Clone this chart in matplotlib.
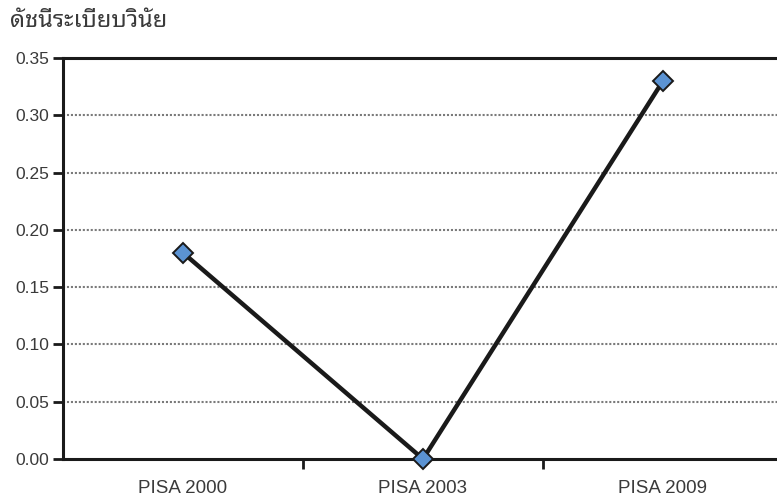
import matplotlib
matplotlib.use("Agg")
import matplotlib.pyplot as plt

# Data
categories = ["PISA 2000", "PISA 2003", "PISA 2009"]
values = [0.18, 0.00, 0.33]
y_ticks = [0.00, 0.05, 0.10, 0.15, 0.20, 0.25, 0.30, 0.35]
y_title = "ดัชนีระเบียบวินัย"

plt.rcParams["font.family"] = ["Liberation Sans", "DejaVu Sans"]

W, H = 777, 499
fig = plt.figure(figsize=(W / 100, H / 100), dpi=100)
left, right, top, bottom = 63, 777, 58, 459
ax = fig.add_axes([left / W, 1 - bottom / H, (right - left) / W, (bottom - top) / H])

x = list(range(len(categories)))
ax.plot(x, values, color="#1a1a1a", lw=3.2, zorder=3,
        marker="D", markersize=10, markerfacecolor="#5b93d3",
        markeredgecolor="#1a1a1a", markeredgewidth=1.4, clip_on=False)

# each category spans one unit; the right edge runs just past the figure
span = 1.0
ax.set_xlim(-0.5, -0.5 + span * (right - left) / 240)
ax.set_ylim(0, 0.35)

ax.set_yticks(y_ticks)
ax.set_yticklabels([f"{v:.2f}" for v in y_ticks])
ax.set_xticks([0.5, 1.5], minor=False)
ax.set_xticklabels([])
ax.set_xticks(x, minor=True)
ax.set_xticklabels(categories, minor=True)

ax.tick_params(axis="y", length=7, width=2, color="#1a1a1a", labelsize=12.5,
               labelcolor="#3a3a3a", pad=3)
ax.tick_params(axis="x", which="major", length=7, width=2, color="#1a1a1a")
ax.tick_params(axis="x", which="minor", length=0, labelsize=13.5,
               labelcolor="#3a3a3a", pad=15)

for yv in y_ticks[1:-1]:
    ax.axhline(yv, color="#7a7a7a", lw=1.5, ls=(0, (1.0, 0.9)), zorder=1)

for s in ["left", "bottom", "top"]:
    ax.spines[s].set_color("#1a1a1a")
    ax.spines[s].set_linewidth(2.2)
ax.spines["right"].set_visible(False)

fig.text(10 / W, 1 - 21 / H, y_title, fontsize=17, color="#3a3a3a",
         va="center", ha="left", fontweight="light",
         family=["Noto Sans Thai Looped", "Loma", "DejaVu Sans"])

fig.savefig("out.png", dpi=100)
